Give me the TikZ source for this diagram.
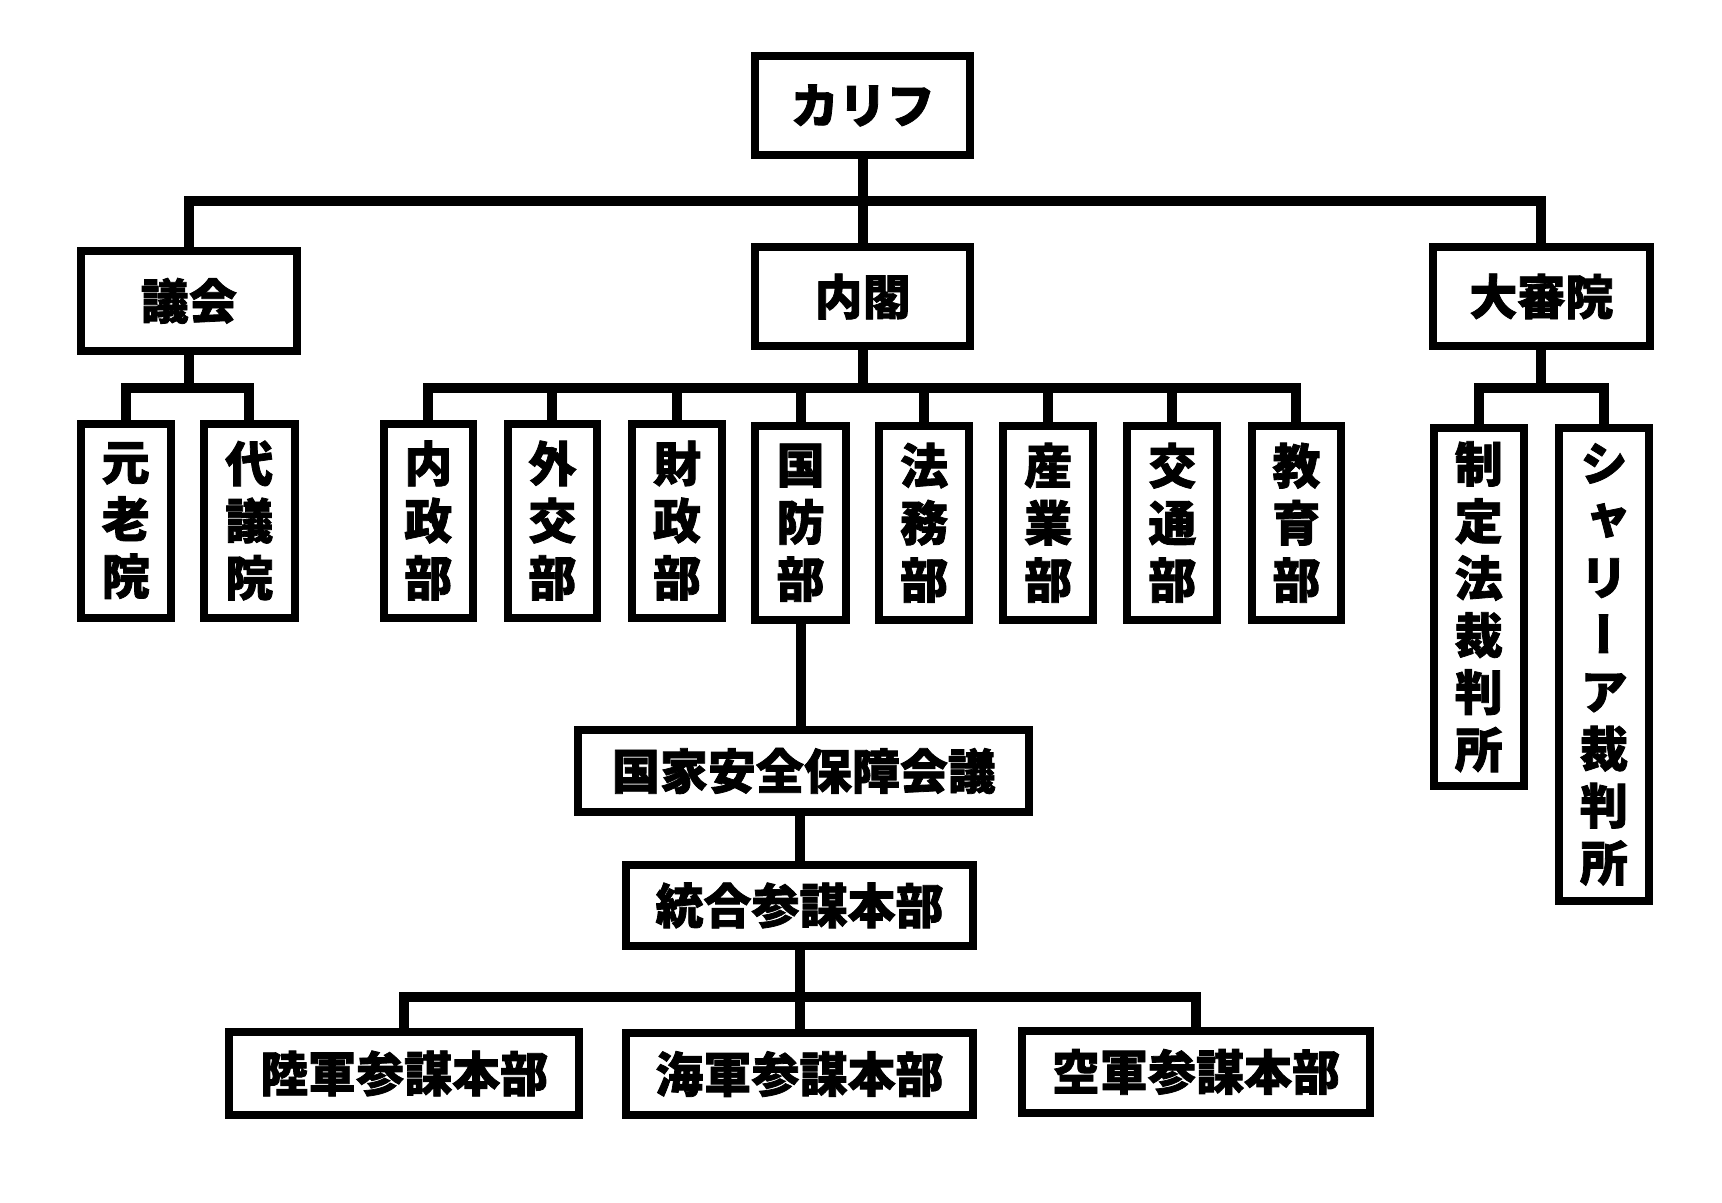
\documentclass[tikz,border=0pt]{standalone}
\usepackage{fontspec}
\newfontfamily\jp{Noto Sans CJK JP}[BoldFeatures={FakeBold=1.6}]
\newfontfamily\jpv{Noto Sans CJK JP}[RawFeature={+vert}, BoldFeatures={FakeBold=1.6}]
\newcommand\obox[6]{%
  \node[box, minimum width={(#3-#1)*0.5491pt-4pt}, minimum height={(#4-#2)*0.5491pt-4pt}]
    (#5) at ({(#1+#3)/2},{(#2+#4)/2}) {#6};}
\begin{document}
\begin{tikzpicture}[x=0.5491pt,y=-0.5491pt,
  box/.style={draw=black, fill=white, line width=4pt, inner sep=0pt, align=center,
     font=\jp\bfseries\fontsize{24}{28.55}\selectfont},
  vbox/.style={box, font=\jpv\bfseries\fontsize{24}{28.55}\selectfont},
  conn/.style={draw=black, line width=5pt, line join=miter}]
\useasboundingbox[fill=white] (0,0) rectangle (1568,1095);
\coordinate (ya) at (0,183);
\coordinate (yb) at (0,353);
\coordinate (yc) at (0,907.5);
% boxes
\obox{684}{47}{887}{145}{karifu}{カリフ}
\obox{70}{225}{274}{323}{gikai}{議会}
\obox{684}{221}{887}{319}{naikaku}{内閣}
\obox{1301}{221}{1506}{319}{daishin}{大審院}
\obox{70}{382}{159}{566}{genro}{元\\老\\院}
\obox{182}{382}{272}{566}{daigi}{代\\議\\院}
\obox{346}{382}{434}{566}{naisei}{内\\政\\部}
\obox{459}{382}{547}{566}{gaiko}{外\\交\\部}
\obox{572}{382}{661}{566}{zaisei}{財\\政\\部}
\obox{684}{384}{774}{568}{kokubo}{国\\防\\部}
\obox{797}{384}{886}{568}{homu}{法\\務\\部}
\obox{910}{384}{999}{568}{sangyo}{産\\業\\部}
\obox{1023}{384}{1112}{568}{kotsu}{交\\通\\部}
\obox{1136}{384}{1225}{568}{kyoiku}{教\\育\\部}
\obox{1302}{386}{1391}{719}{seitei}{制\\定\\法\\裁\\判\\所}
\node[vbox, minimum width={(1505-1416)*0.5491pt-4pt}, minimum height={(824-386)*0.5491pt-4pt}]
  (sharia) at ({(1416+1505)/2},{(386+824)/2}) {シ\\ャ\\リ\\ー\\ア\\裁\\判\\所};
\obox{523}{661}{941}{743}{anpo}{国家安全保障会議}
\obox{566}{784}{890}{865}{togo}{統合参謀本部}
\obox{205}{936}{531}{1019}{riku}{陸軍参謀本部}
\obox{566}{937}{890}{1019}{kai}{海軍参謀本部}
\obox{927}{935}{1251}{1017}{ku}{空軍参謀本部}
% connectors
\draw[conn] (karifu.south) -- (naikaku.north);
\draw[conn] (gikai.north) -- (gikai.north |- ya) -- (daishin.north |- ya) -- (daishin.north);
\draw[conn] (gikai.south) -- (gikai.south |- yb);
\draw[conn] (genro.north) -- (genro.north |- yb) -- (daigi.north |- yb) -- (daigi.north);
\draw[conn] (naikaku.south) -- (naikaku.south |- yb);
\draw[conn] (naisei.north) -- (naisei.north |- yb) -- (kyoiku.north |- yb) -- (kyoiku.north);
\foreach \n in {gaiko,zaisei,kokubo,homu,sangyo,kotsu}
  \draw[conn] (\n.north) -- (\n.north |- yb);
\draw[conn] (daishin.south) -- (daishin.south |- yb);
\draw[conn] (seitei.north) -- (seitei.north |- yb) -- (sharia.north |- yb) -- (sharia.north);
\draw[conn] (kokubo.south) -- (kokubo.south |- anpo.north);
\draw[conn] (togo.north |- anpo.south) -- (togo.north);
\draw[conn] (togo.south) -- (togo.south |- yc);
\draw[conn] (riku.north) -- (riku.north |- yc) -- (ku.north |- yc) -- (ku.north);
\draw[conn] (kai.north) -- (kai.north |- yc);
\end{tikzpicture}
\end{document}
